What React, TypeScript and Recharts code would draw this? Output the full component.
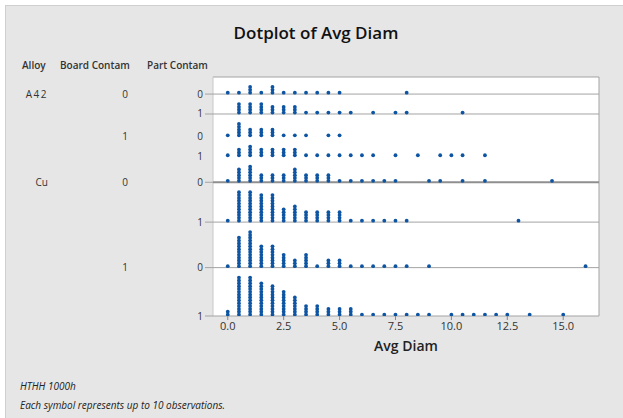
import { ScatterChart, Scatter, XAxis, YAxis, ReferenceLine, CartesianGrid } from "recharts";

const alloys = ["A42", "Cu"];
const boardContam = ["0", "1"];
const partContam = ["0", "1"];

// [Avg Diam bin, symbols stacked in that bin]
const a42B0P0 = [[0, 1], [0.5, 1], [1, 3], [1.5, 1], [2, 3], [2.5, 1], [3, 1], [3.5, 1], [4, 1], [4.5, 1], [5, 1], [8, 1]];
const a42B0P1 = [[0.5, 4], [1, 4], [1.5, 4], [2, 3], [2.5, 3], [3, 3], [3.5, 1], [4, 1], [4.5, 1], [5, 1], [5.5, 1], [6.5, 1], [7.5, 1], [8, 1], [10.5, 1]];
const a42B1P0 = [[0, 1], [0.5, 5], [1, 3], [1.5, 3], [2, 3], [2.5, 1], [3, 1], [3.5, 1], [4.5, 1], [5, 1]];
const a42B1P1 = [[0, 1], [0.5, 3], [1, 4], [1.5, 3], [2, 3], [2.5, 3], [3, 3], [3.5, 1], [4, 1], [4.5, 1], [5, 1], [5.5, 1], [6, 1], [6.5, 1], [7.5, 1], [8.5, 1], [9.5, 1], [10, 1], [10.5, 1], [11.5, 1]];
const cuB0P0 = [[0, 1], [0.5, 5], [1, 6], [1.5, 3], [2, 3], [2.5, 3], [3, 5], [3.5, 3], [4, 3], [4.5, 3], [5, 1], [5.5, 1], [6, 1], [6.5, 1], [7, 1], [7.5, 1], [9, 1], [9.5, 1], [10.5, 1], [11.5, 1], [14.5, 1]];
const cuB0P1 = [[0, 1], [0.5, 11], [1, 11], [1.5, 10], [2, 10], [2.5, 5], [3, 6], [3.5, 4], [4, 4], [4.5, 4], [5, 4], [5.5, 1], [6, 1], [6.5, 1], [7, 1], [7.5, 1], [8, 1], [13, 1]];
const cuB1P0 = [[0, 1], [0.5, 11], [1, 13], [1.5, 8], [2, 8], [2.5, 5], [3, 3], [3.5, 5], [4, 1], [4.5, 3], [5, 3], [5.5, 1], [6, 1], [6.5, 1], [7, 1], [7.5, 1], [8, 1], [9, 1], [16, 1]];
const cuB1P1 = [[0, 2], [0.5, 14], [1, 14], [1.5, 12], [2, 11], [2.5, 9], [3, 7], [3.5, 4], [4, 4], [4.5, 3], [5, 3], [5.5, 3], [6, 1], [6.5, 1], [7, 1], [7.5, 1], [8, 1], [8.5, 1], [9, 1], [10, 1], [10.5, 1], [11, 1], [11.5, 1], [12, 1], [12.5, 1], [13.5, 1], [15, 1]];

const xTicks = [0, 2.5, 5, 7.5, 10, 12.5, 15];

const panels = [
  { alloy: 0, board: 0, part: 0, bins: a42B0P0 },
  { alloy: 0, board: 0, part: 1, bins: a42B0P1 },
  { alloy: 0, board: 1, part: 0, bins: a42B1P0 },
  { alloy: 0, board: 1, part: 1, bins: a42B1P1 },
  { alloy: 1, board: 0, part: 0, bins: cuB0P0 },
  { alloy: 1, board: 0, part: 1, bins: cuB0P1 },
  { alloy: 1, board: 1, part: 0, bins: cuB1P0 },
  { alloy: 1, board: 1, part: 1, bins: cuB1P1 },
];

const DOT = "#0d55a3";
const GRID = "#a3a3a3";
const PAD = 3;
const noBaseline = [2, 3];

// panel heights in symbol units, stacked from the bottom panel up
const heights = panels.map((p) => Math.max(...p.bins.map((b) => b[1])) + PAD);
const bases: number[] = [];
let acc = 0;
for (let i = panels.length - 1; i >= 0; i--) {
  bases[i] = acc;
  acc += heights[i];
}
const total = acc;

const points = panels.flatMap((p, i) =>
  p.bins.flatMap(([v, n]) =>
    Array.from({ length: n }, (_, k) => ({ x: v, y: bases[i] + 0.5 + k }))
  )
);

const Dot = (props: any) => <circle cx={props.cx} cy={props.cy} r={1.9} fill={DOT} />;

const txt = { fontFamily: "'Open Sans', sans-serif", fill: "#333" };

const LeftTick = (props: any) => {
  const { y, payload } = props;
  const i = bases.indexOf(payload.value);
  if (i < 0) return null;
  const p = panels[i];
  const prev = panels[i - 1];
  const newAlloy = !prev || prev.alloy !== p.alloy;
  const newBoard = newAlloy || prev.board !== p.board;
  return (
    <g>
      {!noBaseline.includes(i) && <line x1={205} x2={213} y1={y} y2={y} stroke={GRID} />}
      <text x={203} y={y + 3.5} textAnchor="end" fontSize={10} {...txt}>
        {partContam[p.part]}
      </text>
      {newBoard && (
        <text x={125} y={y + 3.5} textAnchor="middle" fontSize={10} {...txt}>
          {boardContam[p.board]}
        </text>
      )}
      {newAlloy && (
        <text x={48} y={y + 3.5} textAnchor="end" fontSize={10} letterSpacing={p.alloy === 0 ? 1.5 : 0} {...txt}>
          {alloys[p.alloy]}
        </text>
      )}
    </g>
  );
};

const abs = (left: number, top: number, extra: any = {}) => ({
  position: "absolute" as const,
  left,
  top,
  whiteSpace: "nowrap" as const,
  fontFamily: "'Open Sans', sans-serif",
  color: "#222",
  ...extra,
});

export default function App() {
  return (
    <div style={{ position: "absolute", left: 0, top: 0, width: 623, height: 418, background: "#fff", overflow: "hidden" }}>
      <div style={{ position: "absolute", left: 5, top: 5, width: 618, height: 413, background: "#e6e6e6", borderTop: "1px solid #cfcfcf", borderLeft: "1px solid #cfcfcf" }} />
      <div style={abs(0, 21, { width: 632, textAlign: "center", fontSize: 17, fontWeight: 600, color: "#111" })}>Dotplot of Avg Diam</div>
      <div style={abs(22, 58, { fontSize: 10, fontWeight: 600, color: "#333" })}>Alloy</div>
      <div style={abs(60, 58, { fontSize: 10, fontWeight: 600, color: "#333" })}>Board Contam</div>
      <div style={abs(147, 58, { fontSize: 10, fontWeight: 600, color: "#333" })}>Part Contam</div>
      <div style={{ position: "absolute", left: 0, top: 0 }}>
        <ScatterChart width={623} height={418} margin={{ top: 77, right: 24, bottom: 82, left: 0 }}>
          <CartesianGrid horizontal={false} vertical={false} fill="#fff" />
          <XAxis
            type="number"
            dataKey="x"
            domain={[-0.66, 16.6]}
            ticks={xTicks}
            interval={0}
            allowDataOverflow
            tickFormatter={(v: number) => v.toFixed(1)}
            axisLine={{ stroke: GRID }}
            tickLine={{ stroke: "#888" }}
            tickSize={4}
            tick={{ fontSize: 11, fill: "#333", fontFamily: "'Open Sans', sans-serif" }}
            height={20}
          />
          <YAxis
            type="number"
            dataKey="y"
            domain={[0, total]}
            ticks={bases}
            interval={0}
            allowDataOverflow
            width={213}
            axisLine={false}
            tickLine={false}
            tick={<LeftTick />}
          />
          <ReferenceLine y={total} stroke={GRID} />
          <ReferenceLine x={-0.66} stroke="#c8c8c8" />
          <ReferenceLine x={16.6} stroke={GRID} />
          {bases.map((b, i) =>
            b > 0 && !noBaseline.includes(i) ? (
              <ReferenceLine key={i} y={b} stroke={i === 4 ? "#8f8f8f" : GRID} strokeWidth={i === 4 ? 2 : 1} />
            ) : null
          )}
          <Scatter data={points} shape={<Dot />} isAnimationActive={false} />
        </ScatterChart>
      </div>
      <div style={abs(213, 336, { width: 386, textAlign: "center", fontSize: 14, fontWeight: 600 })}>Avg Diam</div>
      <div style={abs(20, 379, { fontSize: 10, fontStyle: "italic" })}>HTHH 1000h</div>
      <div style={abs(20, 398, { fontSize: 10, fontStyle: "italic" })}>Each symbol represents up to 10 observations.</div>
    </div>
  );
}
